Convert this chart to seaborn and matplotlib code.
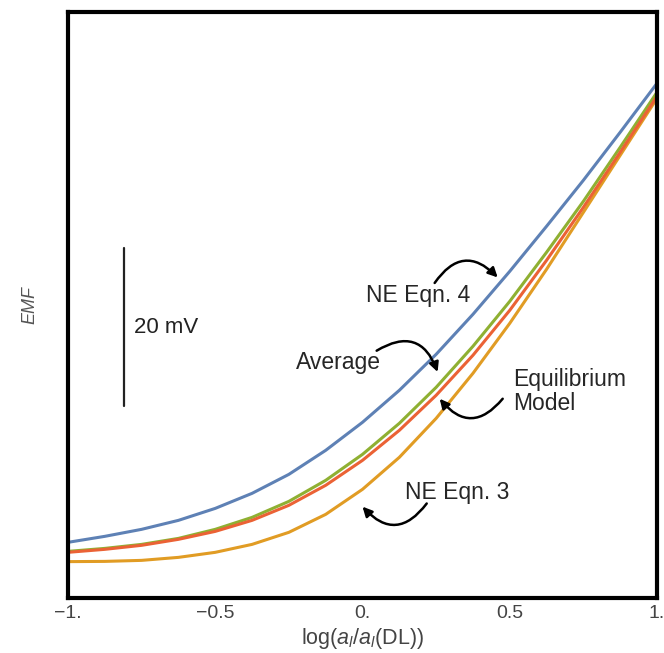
import numpy as np
import pandas as pd
import seaborn as sns
import matplotlib
matplotlib.use("Agg")
import matplotlib.pyplot as plt

# values (EMF in mV, relative to the NE Eqn. 3 baseline)
log_ratio = [-1.0, -0.875, -0.75, -0.625, -0.5, -0.375, -0.25, -0.125, 0.0,
             0.125, 0.25, 0.375, 0.5, 0.625, 0.75, 0.875, 1.0]
ne_eqn4 = [2.67, 3.43, 4.32, 5.46, 6.98, 8.89, 11.30, 14.35, 17.91,
           21.97, 26.54, 31.62, 37.08, 42.80, 48.64, 54.74, 60.96]
ne_eqn3 = [0.22, 0.25, 0.38, 0.76, 1.40, 2.41, 3.94, 6.22, 9.40,
           13.46, 18.41, 24.13, 30.48, 37.34, 44.57, 51.81, 59.05]
average = [1.52, 1.90, 2.41, 3.17, 4.32, 5.84, 7.87, 10.54, 13.84,
           17.78, 22.35, 27.56, 33.27, 39.50, 45.97, 52.83, 59.82]
equilibrium = [1.40, 1.78, 2.29, 3.05, 4.06, 5.46, 7.37, 9.91, 13.08,
               16.89, 21.34, 26.42, 32.13, 38.48, 45.21, 52.20, 59.31]

models = ["NE Eqn. 4", "NE Eqn. 3", "Average", "Equilibrium"]
colors = ["#5E81B5", "#E19C24", "#8FB032", "#EB6235"]
xticks = [-1.0, -0.5, 0.0, 0.5, 1.0]
xtick_labels = ["\u22121.", "\u22120.5", "0.", "0.5", "1."]
yticks = [0, 20, 40, 60]

df = pd.DataFrame({
    "x": log_ratio * 4,
    "emf": ne_eqn4 + ne_eqn3 + average + equilibrium,
    "model": np.repeat(models, len(log_ratio)),
})

sns.set_theme(style="white")
plt.rcParams["font.family"] = ["Liberation Sans", "DejaVu Sans"]
plt.rcParams["mathtext.fontset"] = "custom"
plt.rcParams["mathtext.rm"] = "Liberation Sans"
plt.rcParams["mathtext.it"] = "Liberation Sans:italic"

fig = plt.figure(figsize=(6.64, 6.53), dpi=100)
ax = fig.add_axes([0.1024, 0.0842, 0.8871, 0.8974])

sns.lineplot(data=df, x="x", y="emf", hue="model", hue_order=models,
             palette=colors, linewidth=2.2, legend=False, ax=ax)

ax.set_xlim(-1, 1)
ax.set_ylim(-4.4, 70)
ax.set_xticks(xticks, xtick_labels)
ax.set_yticks(yticks, [])
ax.tick_params(direction="in", length=4, width=2, color="#666666",
               labelsize=14, labelcolor="#444444", pad=5)
for s in ax.spines.values():
    s.set_linewidth(3)
    s.set_color("black")

ax.set_xlabel(r"log($a_l$/$a_l$(DL))", fontsize=15.5, color="#444444", labelpad=3)
ax.set_ylabel("EMF", fontsize=13, style="italic", color="#555555", labelpad=16)

# 20 mV scale bar
ax.plot([-0.81, -0.81], [20, 40], color="#222222", lw=1.6)
ax.text(-0.775, 30, "20 mV", fontsize=16, va="center", ha="left", color="#222222")

# curve labels with curved arrows
arrow = dict(arrowstyle="-|>", color="black", lw=1.8, mutation_scale=14,
             shrinkA=0, shrinkB=0)
ax.text(0.19, 34.0, "NE Eqn. 4", fontsize=16.5, ha="center", va="center")
ax.annotate("", xy=(0.459, 36.3), xytext=(0.245, 35.6),
            arrowprops=dict(arrow, connectionstyle="arc3,rad=-0.6"))
ax.text(-0.08, 25.5, "Average", fontsize=16.5, ha="center", va="center")
ax.annotate("", xy=(0.255, 24.3), xytext=(0.048, 27.0),
            arrowprops=dict(arrow, connectionstyle="arc3,rad=-0.6"))
ax.text(0.51, 21.8, "Equilibrium\nModel", fontsize=16.5, ha="left", va="center",
        linespacing=1.05)
ax.annotate("", xy=(0.262, 20.9), xytext=(0.476, 20.9),
            arrowprops=dict(arrow, connectionstyle="arc3,rad=-0.6"))
ax.text(0.32, 9.0, "NE Eqn. 3", fontsize=16.5, ha="center", va="center")
ax.annotate("", xy=(-0.0, 7.2), xytext=(0.218, 7.6),
            arrowprops=dict(arrow, connectionstyle="arc3,rad=-0.6"))

fig.savefig("out.png", dpi=100)
